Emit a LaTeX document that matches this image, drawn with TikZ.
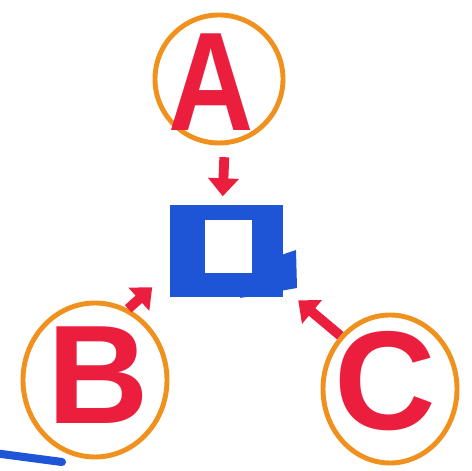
\documentclass[tikz,border=0pt]{standalone}
\usepackage{fontspec}
\newfontfamily\markerfont{Liberation Sans}
\usetikzlibrary{shapes.geometric,arrows.meta}
\definecolor{penred}{RGB}{236,30,62}
\definecolor{penorange}{RGB}{240,145,30}
\definecolor{penblue}{RGB}{30,85,215}

\begin{document}
\begin{tikzpicture}[
    ring/.style={ellipse, draw=penorange, line width=1.4pt, inner sep=0pt},
    letter/.style={text=penred, font=\markerfont\bfseries\fontsize{40}{40}\selectfont, inner sep=0pt, text depth=0pt},
    pointer/.style={draw=penred, line width=2.8pt, -{Triangle[length=0.18cm, width=0.3cm]}},
    box/.style={fill=penblue, minimum width=1.13cm, minimum height=0.92cm, inner sep=0pt}
    ]
        \useasboundingbox (0,0) rectangle (4.71,4.71);
        \node[ring, minimum width=1.28cm, minimum height=1.28cm] at (2.19, 3.92) (A) {};
        \node[ring, minimum width=1.44cm, minimum height=1.54cm] at (0.95, 0.91) (B) {};
        \node[ring, minimum width=1.34cm, minimum height=1.48cm] at (3.90, 0.82) (C) {};
        \node[letter, xscale=0.84, transform shape] at (2.11, 3.885) (Aname) {A};
        \node[letter] at (0.985, 0.96) (Bname) {B};
        \node[letter] at (3.85, 0.91) (Cname) {C};
        \node[box] at (2.265, 2.20) (box) {};
        \fill[white] (box.center) ++(-0.215, -0.22) rectangle ++(0.47, 0.53);
        \fill[penblue] (2.58, 2.08) -- (2.96, 2.21) -- (2.97, 1.83) -- (2.40, 1.73) -- cycle;
        \draw[pointer, shorten <=0.12cm, shorten >=0.08cm] (A.-85) -- (box.95);
        \draw[pointer, shorten >=0.23cm] (B.65) -- (box.200);
        \draw[pointer, shorten >=0.19cm] (C.133) -- (box.-33);
        \draw[penblue, line width=2.3pt, line cap=round] (-0.1, 0.185) -- (0.62, 0.09);
\end{tikzpicture}
\end{document}
